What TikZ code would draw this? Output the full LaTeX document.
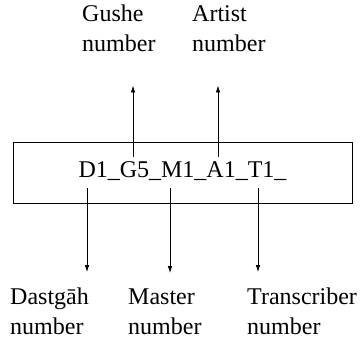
\documentclass[tikz,border=0pt]{standalone}
\usepackage{fontspec}
\setmainfont{Liberation Serif}
\usetikzlibrary{arrows.meta}

\begin{document}
\begin{tikzpicture}[x=1pt,y=-1pt,
	lbl/.style={inner sep=0pt,align=left,anchor=base west,font=\fontsize{24}{30}\selectfont},
	codebox/.style={draw=black,line width=1pt,minimum width=339pt,minimum height=60pt,inner sep=0pt,text height=10pt,text depth=0pt,font=\fontsize{24}{30}\selectfont},
	ptr/.style={line width=0.8pt,-{Latex[length=7pt,width=4.5pt]}}]
	\useasboundingbox (0,0) rectangle (362,345);
	\node[codebox] (code) at (182.5,173) {D1\_G5\_M1\_A1\_T1\_};
	% labels above
	\node[lbl] (gushe) at (82,52) {Gushe\\number};
	\node[lbl] (artist) at (192,52) {Artist\\number};
	% labels below
	\node[lbl] (dastgah) at (10,334) {Dastg\=ah\\number};
	\node[lbl] (master) at (128,334) {Master\\number};
	\node[lbl] (transcriber) at (247,334) {Transcriber\\number};
	% start points in the code
	\coordinate (g) at (133,157);
	\coordinate (a) at (218,157);
	\coordinate (d) at (87,188);
	\coordinate (m) at (170,188);
	\coordinate (t) at (258,188);
	\draw[ptr,shorten >=33pt] (g) -- (g |- gushe.south);
	\draw[ptr,shorten >=33pt] (a) -- (a |- artist.south);
	\draw[ptr,shorten >=15pt] (d) -- (d |- dastgah.north);
	\draw[ptr,shorten >=15pt] (m) -- (m |- master.north);
	\draw[ptr,shorten >=15pt] (t) -- (t |- transcriber.north);
\end{tikzpicture}
\end{document}
